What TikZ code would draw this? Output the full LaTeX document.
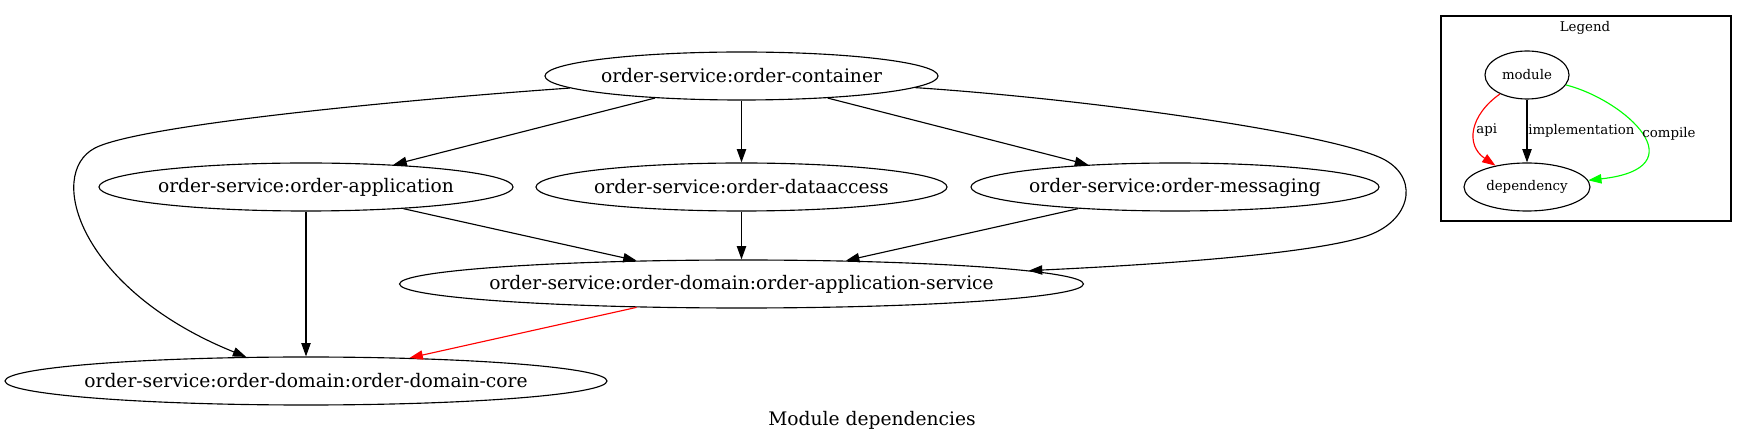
\documentclass[tikz,border=0pt]{standalone}
\usepackage{fontspec}
\setmainfont{DejaVu Serif}
\usetikzlibrary{arrows.meta, shapes.geometric}
\definecolor{ApiRed}{RGB}{255, 0, 0}
\definecolor{CompileGreen}{RGB}{0, 255, 0}

\begin{document}
\begin{tikzpicture}[x=0.75pt, y=-0.75pt,
        modnode/.style={ellipse, draw, line width=0.85pt, inner xsep=-40pt, inner ysep=0pt, minimum height=36pt, minimum width=#1, font=\fontsize{14}{16}\selectfont},
        legnode/.style={modnode=#1, inner xsep=-10pt, font=\fontsize{10}{12}\selectfont},
        arrow/.style={-{Triangle[length=10pt, width=7pt]}, line width=0.85pt},
        lbl/.style={anchor=west, inner sep=0.5pt, text=black, font=\fontsize{10}{12}\selectfont}
    ]
        \useasboundingbox (0,0) rectangle (1746,441);
        \node[modnode=294.75pt] (container) at (741.5,76) {order-service:order-container};
        \node[modnode=310.5pt] (application) at (306,187) {order-service:order-application};
        \node[modnode=308.25pt] (dataaccess) at (741.5,187) {order-service:order-dataaccess};
        \node[modnode=306pt] (messaging) at (1175,187) {order-service:order-messaging};
        \node[modnode=513pt] (appservice) at (741.5,284) {order-service:order-domain:order-application-service};
        \node[modnode=451.5pt] (core) at (306,381) {order-service:order-domain:order-domain-core};
        \node[font=\fontsize{14}{16}\selectfont] (caption) at (872,420) {Module dependencies};
        \draw[arrow] (container) -- (application);
        \draw[arrow] (container) -- (dataaccess);
        \draw[arrow] (container) -- (messaging);
        \draw[arrow] (container) .. controls (400,100) and (140,125) .. (95,148) .. controls (45,174) and (80,290) .. (core);
        \draw[arrow] (container) .. controls (1100,100) and (1340,135) .. (1385,160) .. controls (1421,180) and (1410,225) .. (1360,238) .. controls (1300,255) and (1150,265) .. (appservice);
        \draw[arrow] (application) -- (core);
        \draw[arrow] (application) -- (appservice);
        \draw[arrow] (dataaccess) -- (appservice);
        \draw[arrow] (messaging) -- (appservice);
        \draw[arrow, ApiRed] (appservice) -- (core);
        % legend
        \draw[line width=0.85pt] (1441,16) rectangle (1731,221);
        \node[font=\fontsize{10}{12}\selectfont] (legtitle) at (1585,28) {Legend};
        \node[legnode=63pt] (lmod) at (1527,75) {module};
        \node[legnode=94.5pt] (ldep) at (1527,187) {dependency};
        \draw[arrow, ApiRed] (lmod) .. controls (1470,115) and (1465,145) .. node[lbl] {api} (ldep);
        \draw[arrow] (lmod) -- node[lbl] {implementation} (ldep);
        \draw[arrow, CompileGreen] (lmod) .. controls (1625,100) and (1700,168) .. node[lbl] {compile} (ldep);
    \end{tikzpicture}
\end{document}
